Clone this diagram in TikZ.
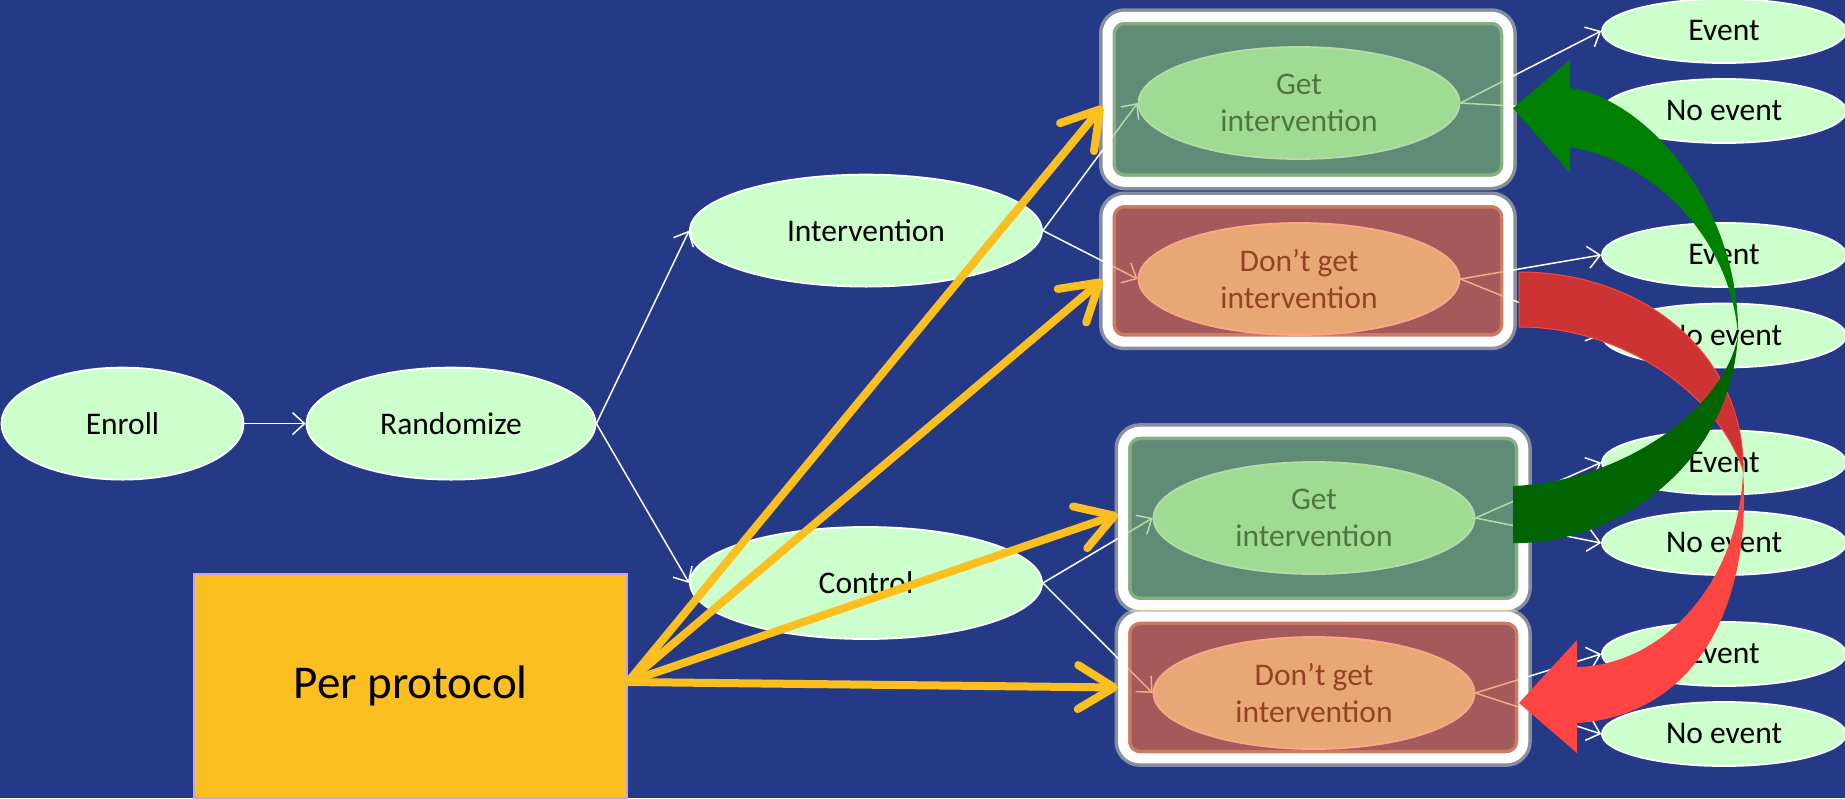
\documentclass[tikz,border=0pt]{standalone}
\usepackage{fontspec}
\setmainfont{Carlito}
\usetikzlibrary{arrows.meta,shapes.geometric}

\definecolor{slide}{RGB}{37,58,134}
\definecolor{mint}{RGB}{204,255,204}
\definecolor{gveil}{RGB}{132,195,110}
\definecolor{rveil}{RGB}{249,111,61}
\definecolor{amber}{RGB}{251,191,31}
\definecolor{lilac}{RGB}{200,160,230}
\definecolor{halo}{RGB}{255,248,190}
\definecolor{gfront}{RGB}{0,128,0}
\definecolor{gback}{RGB}{0,100,0}
\definecolor{rfront}{RGB}{255,68,68}
\definecolor{rback}{RGB}{204,51,51}

\begin{document}
\begin{tikzpicture}[x=1pt, y=-1pt,
  font=\fontsize{31.5}{37}\selectfont,
  oval/.style={ellipse, fill=mint, draw=white, line width=1.8pt, minimum height=112pt, inner sep=0pt, align=center},
  leaf/.style={oval, minimum width=244pt, minimum height=64pt},
  panel/.style={rectangle, rounded corners=17pt, draw=white, line width=10pt, fill opacity=0.6,
    preaction={draw=halo, line width=17pt, draw opacity=0.45}},
  wire/.style={draw=white, line width=1.5pt, -{Straight Barb[length=12pt,width=22pt]}},
  fat/.style={draw=amber, line width=8pt, line cap=round, -{Straight Barb[length=36pt,width=44pt,round]}}]
  \useasboundingbox (0,0) rectangle (1845,798);
  \fill[slide] (0,0) rectangle (1845,798);

  \node[oval, minimum width=242pt] (enr) at (122.5,423.6) {Enroll};
  \node[oval, minimum width=289pt] (rnd) at (451,423.6) {Randomize};
  \node[oval, minimum width=352pt] (int) at (866,230.6) {Intervention};
  \node[oval, minimum width=352pt] (ctl) at (866,583) {Control};
  \node[oval, minimum width=321pt] (gi1) at (1299,103) {Get\\intervention};
  \node[oval, minimum width=321pt] (dg1) at (1299,279) {Don’t get\\intervention};
  \node[oval, minimum width=321pt] (gi2) at (1314,518) {Get\\intervention};
  \node[oval, minimum width=321pt] (dg2) at (1314,693) {Don’t get\\intervention};

  \node[leaf] (e1) at (1724,31) {Event};
  \node[leaf] (n1) at (1724,111) {No event};
  \node[leaf] (e2) at (1724,255) {Event};
  \node[leaf] (n2) at (1724,335.5) {No event};
  \node[leaf] (e3) at (1724,462.5) {Event};
  \node[leaf] (n3) at (1724,543) {No event};
  \node[leaf] (e4) at (1724,654) {Event};
  \node[leaf] (n4) at (1724,734) {No event};

  \path[every edge/.style={wire}] (enr) edge (rnd)
    (rnd.east) edge (int.west) edge (ctl.west)
    (int.east) edge (gi1.west) edge (dg1.west)
    (ctl.east) edge (gi2.west) edge (dg2.west)
    (gi1.east) edge (e1.west) edge (n1.west)
    (dg1.east) edge (e2.west) edge (n2.west)
    (gi2.east) edge (e3.west) edge (n3.west)
    (dg2.east) edge (e4.west) edge (n4.west);

  % translucent boxes over the second split
  \node[panel, fill=gveil, minimum width=400.8pt, minimum height=165pt] (p1) at (1307.9,99.25) {};
  \node[panel, fill=rveil, minimum width=400.8pt, minimum height=141.7pt] (p2) at (1307.9,270.85) {};
  \node[panel, fill=gveil, minimum width=400.3pt, minimum height=173.3pt] (p3) at (1323.15,518.35) {};
  \node[panel, fill=rveil, minimum width=400.3pt, minimum height=141.6pt] (p4) at (1323.15,687.5) {};

  \node[rectangle, fill=amber, draw=lilac, line width=1.5pt, minimum width=433pt, minimum height=224pt,
    font=\fontsize{47}{56}\selectfont] (pp) at (410.7,686) {Per protocol};

  \coordinate (pp-out) at ([yshift=4pt]pp.east);
  \path[every edge/.style={fat}] (pp-out) edge ([yshift=-7pt]p1.west) edge ([yshift=-9pt]p2.west)
    edge ([yshift=4pt]p3.west) edge (p4.west);

  % curved arrows
  \fill[rback, draw=rfront, line width=1pt] (1519,272) .. controls (1650,272) and (1745,360) .. (1743,470)
    .. controls (1720,400) and (1630,327) .. (1519,327) -- cycle;
  \fill[rfront] (1743,470) .. controls (1752,600) and (1700,715) .. (1577,723) -- (1577,753) -- (1519,703)
    -- (1577,640) -- (1577,667) .. controls (1665,665) and (1740,580) .. (1743,470) -- cycle;
  \fill[gback] (1513,486) -- (1513,543) .. controls (1610,545) and (1730,470) .. (1738,335)
    .. controls (1725,410) and (1620,482) .. (1513,486) -- cycle;
  \fill[gfront] (1738,335) .. controls (1740,210) and (1650,100) .. (1570,88) -- (1570,60) -- (1513,108)
    -- (1570,173) -- (1570,147) .. controls (1650,160) and (1730,235) .. (1738,335) -- cycle;
\end{tikzpicture}
\end{document}
